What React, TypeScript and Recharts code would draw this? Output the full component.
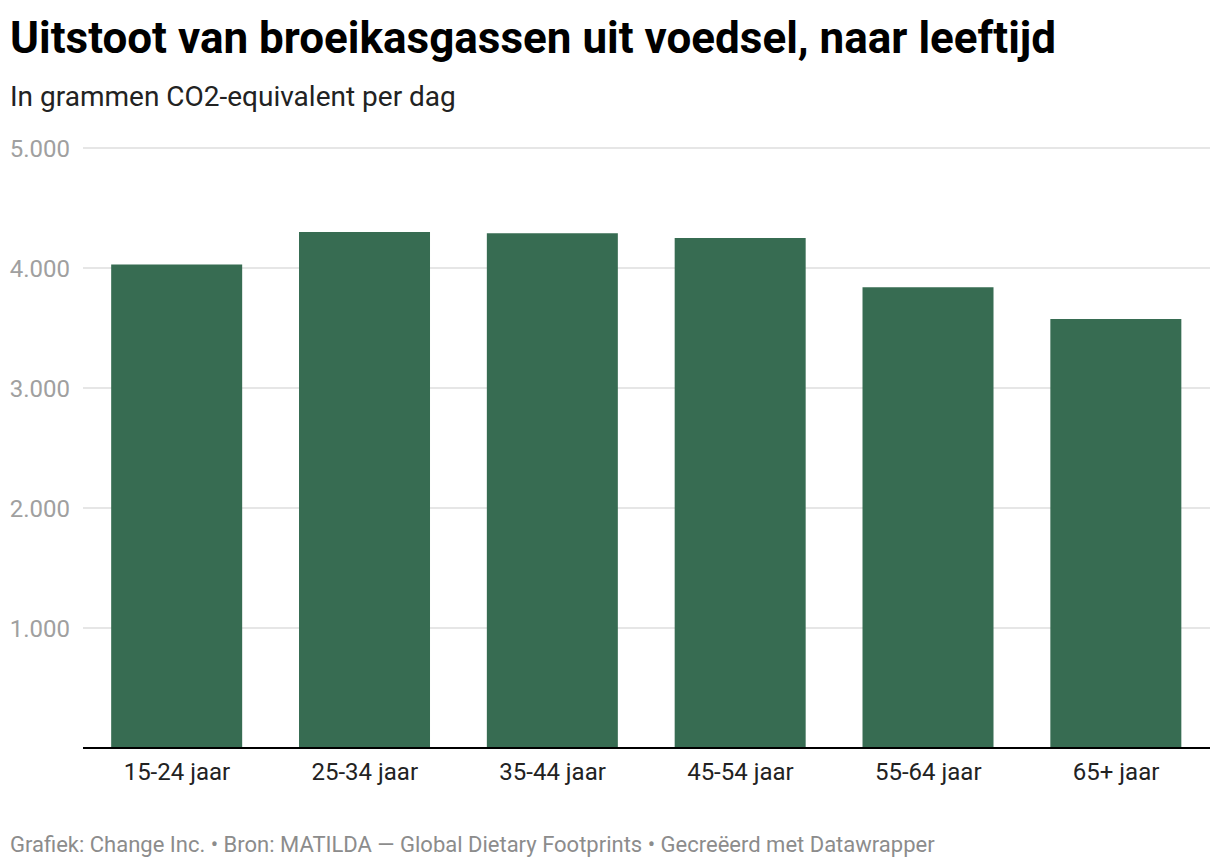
import { BarChart, Bar, XAxis, YAxis, CartesianGrid } from 'recharts'

const ageGroups = ['15-24 jaar', '25-34 jaar', '35-44 jaar', '45-54 jaar', '55-64 jaar', '65+ jaar']
const emissions = [4030, 4300, 4290, 4250, 3840, 3575]
const yTicks = [0, 1000, 2000, 3000, 4000, 5000]

const FONT = 'Roboto, "Noto Sans", sans-serif'

// Dutch thousands separator: 5000 -> 5.000
const formatNl = (v: number) => String(v).replace(/\B(?=(\d{3})+(?!\d))/g, '.')

export default function App() {
  const data = ageGroups.map((name, i) => ({ name, value: emissions[i] }))

  return (
    <div style={{ position: 'absolute', left: 0, top: 0, width: 1220, height: 868, background: '#fff', fontFamily: FONT }}>
      <div style={{ position: 'absolute', left: 10, top: 16, fontSize: 44, fontWeight: 700, lineHeight: 1, color: '#000', whiteSpace: 'nowrap' }}>
        Uitstoot van broeikasgassen uit voedsel, naar leeftijd
      </div>
      <div style={{ position: 'absolute', left: 10, top: 83, fontSize: 28, lineHeight: 1, color: '#222', whiteSpace: 'nowrap' }}>
        In grammen CO2-equivalent per dag
      </div>

      <div style={{ position: 'absolute', left: 0, top: 0 }}>
        <BarChart
          width={1220}
          height={868}
          data={data}
          margin={{ top: 148, right: 10, bottom: 90, left: 0 }}
          barCategoryGap="15%"
        >
          <CartesianGrid vertical={false} stroke="#e6e6e6" strokeWidth={2} />
          <YAxis
            width={83}
            domain={[0, 5000]}
            ticks={yTicks}
            axisLine={false}
            tickLine={false}
            tickSize={0}
            tickMargin={13}
            tick={{ fill: '#a0a0a0', fontSize: 24, fontFamily: FONT }}
            tickFormatter={(v: number) => (v === 0 ? '' : formatNl(v))}
          />
          <XAxis
            dataKey="name"
            height={30}
            interval={0}
            tickLine={false}
            tickSize={0}
            tickMargin={15}
            axisLine={{ stroke: '#000', strokeWidth: 2 }}
            tick={{ fill: '#222', fontSize: 24, fontFamily: FONT }}
          />
          <Bar dataKey="value" fill="#376c52" isAnimationActive={false} />
        </BarChart>
      </div>

      <div style={{ position: 'absolute', left: 10, top: 834, fontSize: 22, lineHeight: 1, color: '#8c8c8c', whiteSpace: 'nowrap' }}>
        Grafiek: Change Inc. • Bron: MATILDA — Global Dietary Footprints • Gecreëerd met Datawrapper
      </div>
    </div>
  )
}
